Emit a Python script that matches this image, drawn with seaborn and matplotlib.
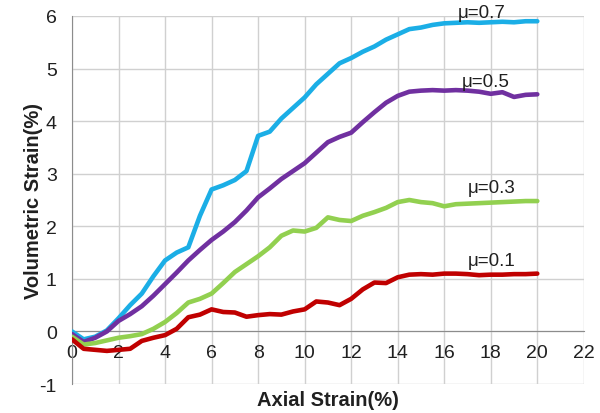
import numpy as np
import pandas as pd
import matplotlib
matplotlib.use("Agg")
import matplotlib.pyplot as plt
from matplotlib.ticker import MultipleLocator
import seaborn as sns

# Axial strain (%) sample positions shared by all series
axial = [0, 0.5, 1, 1.5, 2, 2.5, 3, 3.5, 4, 4.5, 5, 5.5, 6, 6.5, 7, 7.5, 8, 8.5, 9, 9.5,
         10, 10.5, 11, 11.5, 12, 12.5, 13, 13.5, 14, 14.5, 15, 15.5, 16, 16.5, 17, 17.5,
         18, 18.5, 19, 19.5, 20]

# Volumetric strain (%) for each friction coefficient
vol_07 = [0.0, -0.15, -0.1, 0.02, 0.25, 0.5, 0.72, 1.05, 1.35, 1.5, 1.6, 2.2, 2.7, 2.78,
          2.88, 3.05, 3.72, 3.8, 4.05, 4.25, 4.45, 4.7, 4.9, 5.1, 5.2, 5.32, 5.42, 5.55,
          5.65, 5.75, 5.78, 5.83, 5.86, 5.87, 5.88, 5.87, 5.88, 5.89, 5.88, 5.9, 5.9]
vol_05 = [-0.05, -0.2, -0.12, 0.0, 0.2, 0.33, 0.48, 0.68, 0.9, 1.12, 1.35, 1.55, 1.74,
          1.9, 2.08, 2.3, 2.55, 2.72, 2.9, 3.05, 3.2, 3.4, 3.6, 3.7, 3.78, 3.98, 4.17,
          4.35, 4.48, 4.56, 4.58, 4.59, 4.58, 4.59, 4.58, 4.56, 4.52, 4.55, 4.46, 4.5, 4.51]
vol_03 = [-0.1, -0.25, -0.22, -0.17, -0.12, -0.09, -0.05, 0.05, 0.18, 0.35, 0.55, 0.62,
          0.72, 0.92, 1.13, 1.28, 1.43, 1.6, 1.82, 1.92, 1.9, 1.97, 2.17, 2.12, 2.1, 2.2,
          2.27, 2.35, 2.46, 2.5, 2.46, 2.44, 2.38, 2.42, 2.43, 2.44, 2.45, 2.46, 2.47,
          2.48, 2.48]
vol_01 = [-0.15, -0.33, -0.35, -0.37, -0.35, -0.33, -0.18, -0.12, -0.07, 0.05, 0.27, 0.32,
          0.42, 0.37, 0.36, 0.28, 0.31, 0.33, 0.32, 0.38, 0.42, 0.57, 0.55, 0.5, 0.62, 0.8,
          0.93, 0.92, 1.03, 1.08, 1.09, 1.08, 1.1, 1.1, 1.09, 1.07, 1.08, 1.08, 1.09, 1.09,
          1.1]

labels = ["μ=0.7", "μ=0.5", "μ=0.3", "μ=0.1"]
colors = ["#1BAEE6", "#7030A0", "#92D050", "#C00000"]
# label anchor positions (x, y) in data units
label_pos = [(17.6, 6.07), (17.8, 4.76), (18.05, 2.74), (18.05, 1.34)]

series = [vol_07, vol_05, vol_03, vol_01]
df = pd.concat(
    [pd.DataFrame({"axial": axial, "vol": s, "mu": lab}) for s, lab in zip(series, labels)],
    ignore_index=True,
)

sns.set_style("white")
plt.rcParams["font.family"] = ["Liberation Sans", "DejaVu Sans"]
plt.rcParams["axes.unicode_minus"] = False

fig = plt.figure(figsize=(6, 4.14), dpi=100)
ax = fig.add_axes([0.12, 0.07, 0.853, 0.889])

sns.lineplot(data=df, x="axial", y="vol", hue="mu", palette=dict(zip(labels, colors)),
             linewidth=3.3, legend=False, ax=ax, zorder=3)

for lab, (lx, ly), c in zip(labels, label_pos, colors):
    ax.text(lx, ly, lab, ha="center", va="center", fontsize=13.5, color="#202020",
            clip_on=False, zorder=4)

ax.set_xlim(0, 22)
ax.set_ylim(-1, 6)
ax.xaxis.set_major_locator(MultipleLocator(2))
ax.xaxis.set_minor_locator(MultipleLocator(1))
ax.yaxis.set_major_locator(MultipleLocator(1))
ax.yaxis.set_minor_locator(MultipleLocator(0.5))

ax.grid(True, which="major", color="#D0D0D0", linewidth=1)
ax.set_axisbelow(True)

axis_col = "#8C8C8C"
ax.spines["bottom"].set_position(("data", 0))
ax.spines["bottom"].set_color(axis_col)
ax.spines["left"].set_color(axis_col)
ax.spines["top"].set_visible(False)
ax.spines["right"].set_visible(False)

ax.tick_params(axis="x", which="both", direction="in", length=4, color=axis_col,
               labelsize=14, pad=9, labelcolor="#202020")
ax.tick_params(axis="y", which="both", direction="out", length=5, color=axis_col,
               labelsize=14, pad=6, labelcolor="#202020")
for t in ax.xaxis.get_major_ticks() + ax.yaxis.get_major_ticks():
    t.label1.set_zorder(5)

ax.set_xlabel("Axial Strain(%)", fontsize=14.5, fontweight="bold", color="#202020")
ax.set_ylabel("Volumetric Strain(%)", fontsize=14.5, fontweight="bold", color="#202020")
ax.xaxis.set_label_coords(0.5, -0.041)
ax.xaxis.label.set_va("center")
ax.yaxis.set_label_coords(-0.075, 0.5)
ax.yaxis.label.set_va("center")

fig.savefig("out.png", dpi=100)
